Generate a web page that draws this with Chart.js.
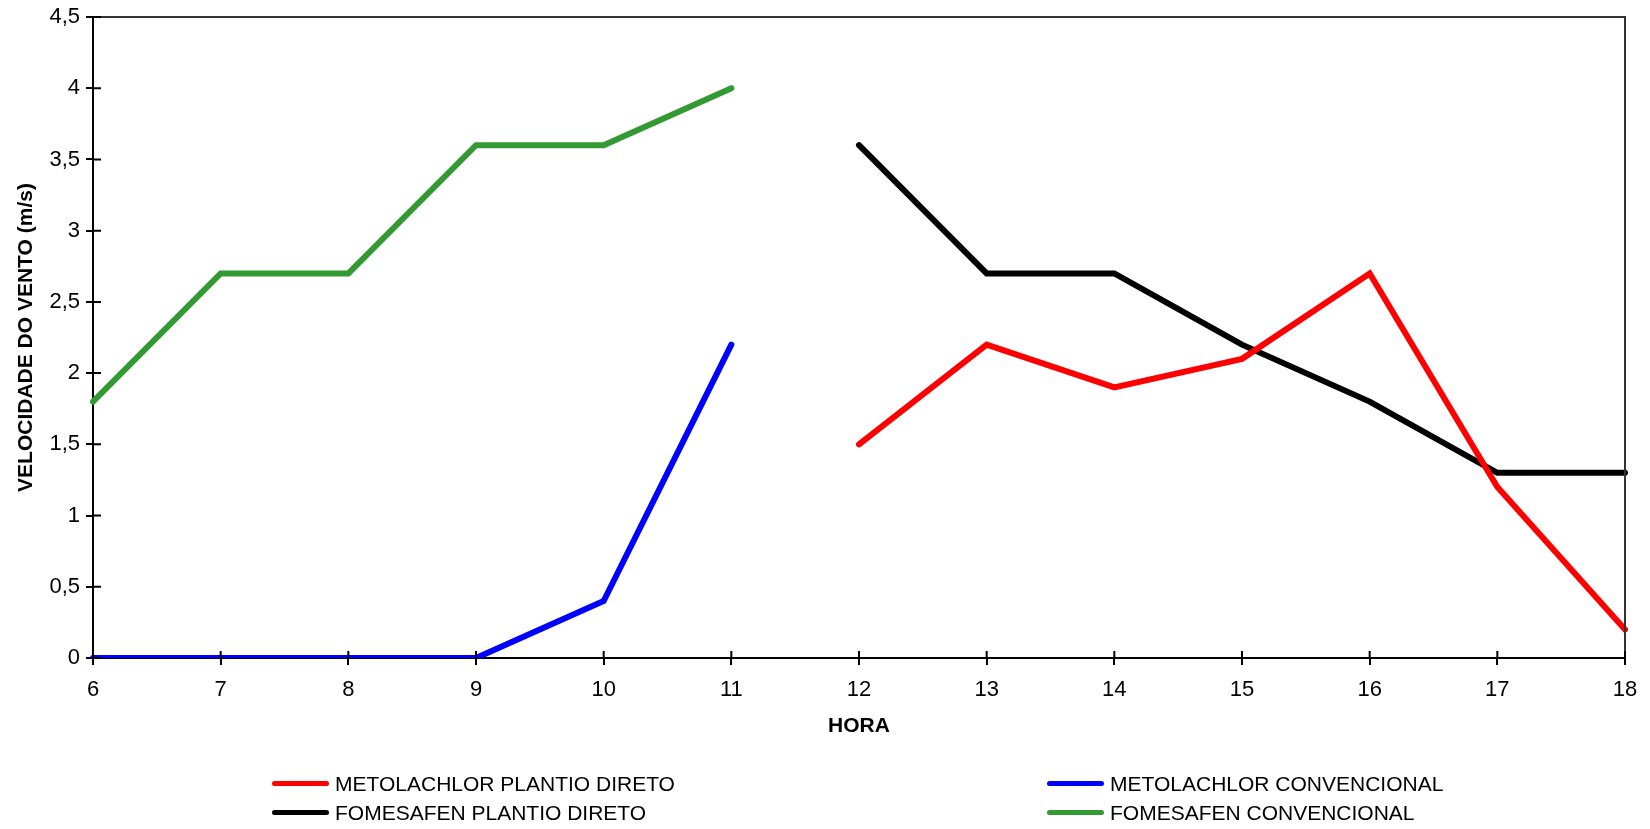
<!DOCTYPE html>
<html lang="pt">
<head>
  <meta charset="UTF-8">
  <title>Velocidade do vento</title>
  <script src="https://cdn.jsdelivr.net/npm/chart.js"></script>
  <style>
    body {
      margin: 0;
      background: #fff;
      font-family: "Liberation Sans", Arial, sans-serif;
    }
    .wrap {
      position: relative;
      width: 1650px;
      height: 829px;
    }
    #legenda {
      position: absolute;
      left: 272px;
      top: 769px;
      display: grid;
      grid-template-columns: 775px auto;
      grid-auto-rows: 29px;
      font-size: 21px;
      color: #000;
    }
    #legenda .item {
      display: flex;
      align-items: center;
    }
    #legenda .amostra {
      width: 57px;
      height: 5px;
      border-radius: 3px;
      margin-right: 6px;
    }
  </style>
</head>
<body>
  <div class="wrap">
    <canvas id="grafico" width="1650" height="829"></canvas>
    <div id="legenda"></div>
  </div>

  <script>
    // dados
    const horas = ['6', '7', '8', '9', '10', '11', '12', '13', '14', '15', '16', '17', '18'];
    const metolachlorPlantioDireto = [null, null, null, null, null, null, 1.5, 2.2, 1.9, 2.1, 2.7, 1.2, 0.2];
    const metolachlorConvencional = [0, 0, 0, 0, 0.4, 2.2, null, null, null, null, null, null, null];
    const fomesafenPlantioDireto = [null, null, null, null, null, null, 3.6, 2.7, 2.7, 2.2, 1.8, 1.3, 1.3];
    const fomesafenConvencional = [1.8, 2.7, 2.7, 3.6, 3.6, 4.0, null, null, null, null, null, null, null];
    const yMin = 0;
    const yMax = 4.5;
    const yPasso = 0.5;

    const fonte = "'Liberation Sans', Arial, sans-serif";

    // moldura de cima/direita e tiques que cruzam os eixos
    const moldura = {
      id: 'moldura',
      afterDraw(chart) {
        const ctx = chart.ctx;
        const a = chart.chartArea;
        ctx.save();
        ctx.strokeStyle = '#333';
        ctx.lineWidth = 2;
        ctx.beginPath();
        ctx.moveTo(a.left, a.top);
        ctx.lineTo(a.right, a.top);
        ctx.lineTo(a.right, a.bottom);
        ctx.stroke();

        ctx.strokeStyle = '#000';
        ctx.beginPath();
        const y = chart.scales.y;
        y.ticks.forEach((t, i) => {
          const p = y.getPixelForTick(i);
          ctx.moveTo(a.left, p);
          ctx.lineTo(a.left + 8, p);
        });
        const x = chart.scales.x;
        x.ticks.forEach((t, i) => {
          const p = x.getPixelForTick(i);
          ctx.moveTo(p, a.bottom);
          ctx.lineTo(p, a.bottom - 7);
        });
        ctx.stroke();
        ctx.restore();
      }
    };

    const serie = (label, data, cor) => ({
      label: label,
      data: data,
      borderColor: cor,
      backgroundColor: cor,
      borderWidth: 6,
      pointRadius: 0,
      borderCapStyle: 'round',
      tension: 0,
      spanGaps: false
    });

    const grafico = new Chart(document.getElementById('grafico'), {
      type: 'line',
      data: {
        labels: horas,
        datasets: [
          serie('METOLACHLOR PLANTIO DIRETO', metolachlorPlantioDireto, '#ff0000'),
          serie('METOLACHLOR CONVENCIONAL', metolachlorConvencional, '#0000ff'),
          serie('FOMESAFEN PLANTIO DIRETO', fomesafenPlantioDireto, '#000000'),
          serie('FOMESAFEN CONVENCIONAL', fomesafenConvencional, '#339933')
        ]
      },
      options: {
        responsive: false,
        animation: false,
        layout: {
          padding: { left: 14, right: 25, top: 12, bottom: 90 }
        },
        plugins: {
          legend: { display: false },
          tooltip: { enabled: false }
        },
        scales: {
          x: {
            offset: false,
            grid: {
              drawOnChartArea: false,
              tickLength: 7,
              tickColor: '#000',
              lineWidth: 2
            },
            border: { color: '#000', width: 2 },
            ticks: {
              color: '#000',
              padding: 12,
              maxRotation: 0,
              font: { family: fonte, size: 22 }
            },
            title: {
              display: true,
              text: 'HORA',
              color: '#000',
              padding: 0,
              font: { family: fonte, size: 21, weight: 'bold' }
            },
            afterFit(scale) {
              scale.height = 81;
            }
          },
          y: {
            min: yMin,
            max: yMax,
            grid: {
              drawOnChartArea: false,
              tickLength: 7,
              tickColor: '#000',
              lineWidth: 2
            },
            border: { color: '#000', width: 2 },
            ticks: {
              stepSize: yPasso,
              color: '#000',
              padding: 6,
              font: { family: fonte, size: 22, lineHeight: 1 },
              callback: v => String(v).replace('.', ',')
            },
            title: {
              display: true,
              text: 'VELOCIDADE DO VENTO (m/s)',
              color: '#000',
              padding: 0,
              font: { family: fonte, size: 21, weight: 'bold' }
            },
            afterFit(scale) {
              scale.width = 79;
            }
          }
        }
      },
      plugins: [moldura]
    });

    // legenda em duas colunas, montada a partir das séries
    const legenda = document.getElementById('legenda');
    grafico.data.datasets.forEach(ds => {
      const item = document.createElement('div');
      item.className = 'item';
      item.innerHTML = '<span class="amostra" style="background:' + ds.borderColor + '"></span>' + ds.label;
      legenda.appendChild(item);
    });
  </script>
</body>
</html>
